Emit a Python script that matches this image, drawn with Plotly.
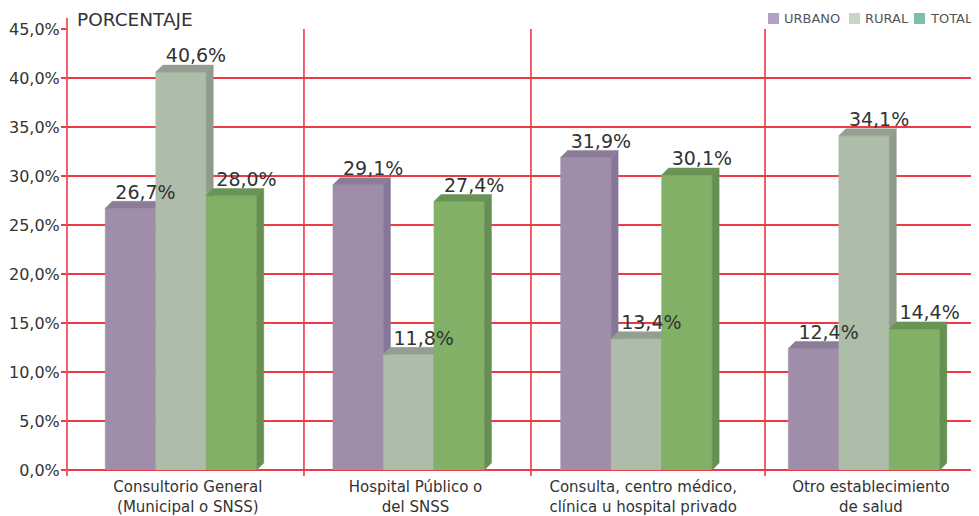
import plotly.graph_objects as go

# ---------------- data ----------------
categories = [
    "Consultorio General<br>(Municipal o SNSS)",
    "Hospital Público o<br>del SNSS",
    "Consulta, centro médico,<br>clínica u hospital privado",
    "Otro establecimiento<br>de salud",
]
series_names = ["URBANO", "RURAL", "TOTAL"]
urbano = [26.7, 29.1, 31.9, 12.4]
rural = [40.6, 11.8, 13.4, 34.1]
total = [28.0, 27.4, 30.1, 14.4]
y_ticks = [0, 5, 10, 15, 20, 25, 30, 35, 40, 45]
y_title = "PORCENTAJE"

series_values = [urbano, rural, total]


def fmt_pct(v):
    return f"{v:.1f}".replace(".", ",") + "%"


# ---------------- style ----------------
FONT = "DejaVu Sans"
RED = "#ee3a44"
TXT = "#333333"
front_cols = ["#a08daa", "#adbdaa", "#82b066"]
top_cols = ["#8b7c97", "#959f91", "#6a9356"]
side_cols = ["#86779a", "#8f9b8b", "#668f52"]
legend_cols = ["#b3a0c4", "#c7d5c2", "#7fbfa9"]

OFF = 8                      # page body margin in the browser
W, H = 979 - OFF, 516 - OFF
L, R, T, B = 67 - OFF, 972 - OFF, 29 - OFF, 470 - OFF
x_range = [-0.5007, 3.474]
y_range = [0, 45]
ppx = (R - L) / (x_range[1] - x_range[0])   # px per x unit
ppy = (B - T) / (y_range[1] - y_range[0])   # px per y unit

bw = 50.5 / ppx      # bar front width
dx = 7 / ppx         # depth offsets
dy = 7 / ppy
label_dx = 15 / ppx


def px_to_paper_x(p):
    return (p - OFF - L) / (R - L)


def px_to_paper_y(p):
    return (B - (p - OFF)) / (B - T)


fig = go.Figure()

centers = list(range(len(categories)))

for k, (name, vals) in enumerate(zip(series_names, series_values)):
    fx, fy, tx, ty, sx, sy = [], [], [], [], [], []
    for c, v in zip(centers, vals):
        x0 = c + (k - 1) * bw - bw / 2
        x1 = x0 + bw
        fx += [x0, x1, x1, x0, x0, None]
        fy += [0, 0, v, v, 0, None]
        tx += [x0, x1, x1 + dx, x0 + dx, x0, None]
        ty += [v, v, v + dy, v + dy, v, None]
        sx += [x1, x1 + dx, x1 + dx, x1, x1, None]
        sy += [0, dy, v + dy, v, 0, None]
    for xs, ys, col in ((fx, fy, front_cols[k]), (tx, ty, top_cols[k]), (sx, sy, side_cols[k])):
        fig.add_trace(go.Scatter(
            x=xs, y=ys, mode="lines", fill="toself", fillcolor=col,
            line=dict(color=col, width=0.5), name=name, showlegend=False,
            hoverinfo="skip",
        ))

# data labels
for k, vals in enumerate(series_values):
    fig.add_trace(go.Scatter(
        x=[c + (k - 1) * bw + label_dx for c in centers],
        y=[v + dy - 0.2 for v in vals],
        mode="text",
        text=[fmt_pct(v) for v in vals],
        textposition="top center",
        textfont=dict(family=FONT, size=19, color=TXT),
        showlegend=False, hoverinfo="skip",
    ))

shapes = []
# category separators and borders
for xs in [0.540, 1.537, 2.565]:
    shapes.append(dict(type="line", xref="x", yref="paper", x0=xs, x1=xs,
                       y0=px_to_paper_y(476), y1=1, line=dict(color=RED, width=1.6),
                       layer="below"))
shapes.append(dict(type="line", xref="paper", yref="paper", x0=1, x1=1,
                   y0=px_to_paper_y(476), y1=1, line=dict(color=RED, width=1.6),
                   layer="below"))
shapes.append(dict(type="line", xref="paper", yref="paper", x0=0, x1=0,
                   y0=px_to_paper_y(476), y1=px_to_paper_y(18), line=dict(color=RED, width=1.6),
                   layer="below"))

annotations = [dict(
    text=y_title, xref="paper", yref="paper",
    x=px_to_paper_x(75), y=px_to_paper_y(19), xanchor="left", yanchor="middle",
    showarrow=False, font=dict(family=FONT, size=18.5, color=TXT),
)]

# legend (squares + labels)
leg_sq = [768, 849, 914]
for name, col, p in zip(series_names, legend_cols, leg_sq):
    shapes.append(dict(type="rect", xref="paper", yref="paper",
                       x0=px_to_paper_x(p), x1=px_to_paper_x(p + 11),
                       y0=px_to_paper_y(24), y1=px_to_paper_y(13),
                       fillcolor=col, line=dict(width=0)))
    annotations.append(dict(
        text=name, xref="paper", yref="paper",
        x=px_to_paper_x(p + 14), y=px_to_paper_y(18.5), xanchor="left", yanchor="middle",
        showarrow=False, font=dict(family=FONT, size=13, color="#555555"),
    ))

fig.update_layout(
    width=W, height=H,
    margin=dict(l=L, r=W - R, t=T, b=H - B, pad=0, autoexpand=False),
    paper_bgcolor="white", plot_bgcolor="white",
    showlegend=False,
    shapes=shapes,
    annotations=annotations,
    font=dict(family=FONT, color=TXT),
)

fig.update_xaxes(
    range=x_range, tickmode="array",
    tickvals=[c + 0.03 for c in centers], ticktext=categories,
    showgrid=False, zeroline=False, showline=False, ticks="",
    tickfont=dict(family=FONT, size=15, color=TXT),
    ticklabelstandoff=6, automargin=False,
)
fig.update_yaxes(
    range=y_range, tickmode="array", tickvals=y_ticks,
    ticktext=[fmt_pct(t) for t in y_ticks],
    showgrid=True, gridcolor=RED, gridwidth=1.6,
    zeroline=True, zerolinecolor=RED, zerolinewidth=1.6,
    showline=False,
    ticks="outside", ticklen=5, tickcolor=RED, tickwidth=1.6,
    tickfont=dict(family=FONT, size=16, color=TXT),
    ticklabelstandoff=-2,
    automargin=False,
)

fig.write_html("out.html")
